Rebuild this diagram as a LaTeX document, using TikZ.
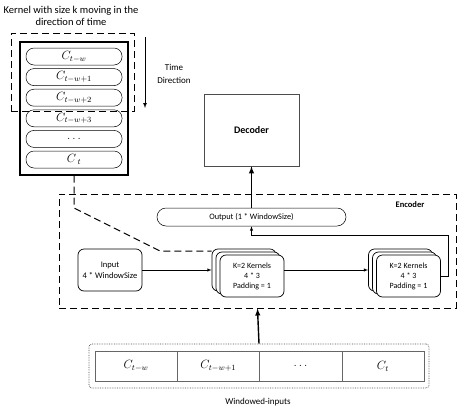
\documentclass[tikz,border=0pt]{standalone}
\usepackage{fontspec}
\setmainfont{Carlito}

\begin{document}
\begin{tikzpicture}[x=1pt,y=-1pt,
  pill/.style={shape=rectangle, rounded corners=8pt, draw, line width=0.5pt, minimum width=96pt, minimum height=17pt, inner sep=0pt, font=\fontsize{12}{12}\selectfont},
  box/.style={shape=rectangle, rounded corners=6pt, draw, line width=0.7pt, fill=white, align=center, inner sep=1pt, minimum width=64pt, minimum height=42pt, font=\fontsize{8}{10}\selectfont},
  cell/.style={shape=rectangle, draw=black!60, line width=0.5pt, minimum width=82.3pt, minimum height=30pt, inner sep=0pt, font=\fontsize{12}{12}\selectfont},
  dashline/.style={draw=black, line width=1pt, dash pattern=on 7pt off 4pt},
  thinarrow/.style={-latex, line width=0.5pt},
  thickarrow/.style={-latex, line width=1.4pt}]
\useasboundingbox (0,0) rectangle (461,413);

%%% Kernel window
\node[align=center, font=\fontsize{10.5}{12}\selectfont] (title) at (71,16) {Kernel with size k moving in the\\direction of time};
\node[shape=rectangle, draw, line width=1.2pt, minimum width=108pt, minimum height=133pt] (win) at (74,108.5) {};
\node[pill] (c1) at (74,56.5) {$C_{t-w}$};
\node[pill] (c2) at (74,77.1) {$C_{t-w+1}$};
\node[pill] (c3) at (74,97.7) {$C_{t-w+2}$};
\node[pill] (c4) at (74,118.3) {$C_{t-w+3}$};
\node[pill] (c5) at (74,138.9) {$\ldots$};
\node[pill] (c6) at (74,159.5) {$C_{\;t}$};
\node[shape=rectangle, dashline, minimum width=123pt, minimum height=78pt] (kw) at (72.5,72) {};

\coordinate (td1) at (145,37);
\coordinate (td2) at (145,108);
\draw[-latex, line width=0.7pt] (td1)--(td2);
\node[align=center, font=\fontsize{9}{13}\selectfont] (tdir) at (174,74) {Time\\Direction};

%%% Decoder
\node[shape=rectangle, draw=black!70, line width=0.7pt, minimum width=95pt, minimum height=72pt, font=\fontsize{10}{12}\bfseries] (dec) at (251.5,130) {Decoder};

%%% Encoder
\node[shape=rectangle, dashline, minimum width=397pt, minimum height=114pt] (enc) at (257.5,251) {};
\node[font=\fontsize{8.5}{10}\bfseries] (enclab) at (410,205) {Encoder};
\node[shape=rectangle, rounded corners=9pt, draw, line width=0.5pt, minimum width=189pt, minimum height=18pt, font=\fontsize{8.3}{10}\selectfont] (out) at (251.5,217) {Output (1 * WindowSize)};
\node[box, font=\fontsize{8.5}{11}\selectfont] (in) at (110,270) {Input\\4 * WindowSize};
\node[box] (k1c) at (244,270) {};
\node[box] (k1b) at (248,273) {};
\node[box] (k1) at (252,276) {K=2 Kernels\\4 * 3\\Padding = 1};
\node[box] (k2c) at (400.5,270) {};
\node[box] (k2b) at (404.5,273) {};
\node[box] (k2) at (408.5,276) {K=2 Kernels\\4 * 3\\Padding = 1};

\coordinate (d1) at (74,208);
\coordinate (d2) at (160,251);
\draw[dashline] (win.south)--(d1)--(d2)--(d2 -| k1c.west);

\draw[thinarrow] (in.east)--(k1c.west |- in.east);
\draw[thinarrow] (k1.east |- in.east)--(k2c.west |- in.east);
\coordinate (fb) at (448,235);
\draw[thinarrow] (k2.east)-|(fb)-|(out.south);
\draw[thickarrow] (out.north)--(dec.south);

%%% Windowed inputs
\node[shape=rectangle, rounded corners=3pt, draw=black!70, densely dotted, line width=0.7pt, minimum width=340pt, minimum height=44pt] (wbox) at (259,366) {};
\node[cell] (w1) at (136,366) {$C_{t-w}$};
\node[cell] (w2) at (218.3,366) {$C_{t-w+1}$};
\node[cell] (w3) at (300.6,366) {$\ldots$};
\node[cell] (w4) at (382.9,366) {$C_t$};
\node[font=\fontsize{9}{11}\selectfont] (wlab) at (258,402) {Windowed-inputs};
\draw[thickarrow] (wbox.north)--(enc.south);

\end{tikzpicture}
\end{document}
